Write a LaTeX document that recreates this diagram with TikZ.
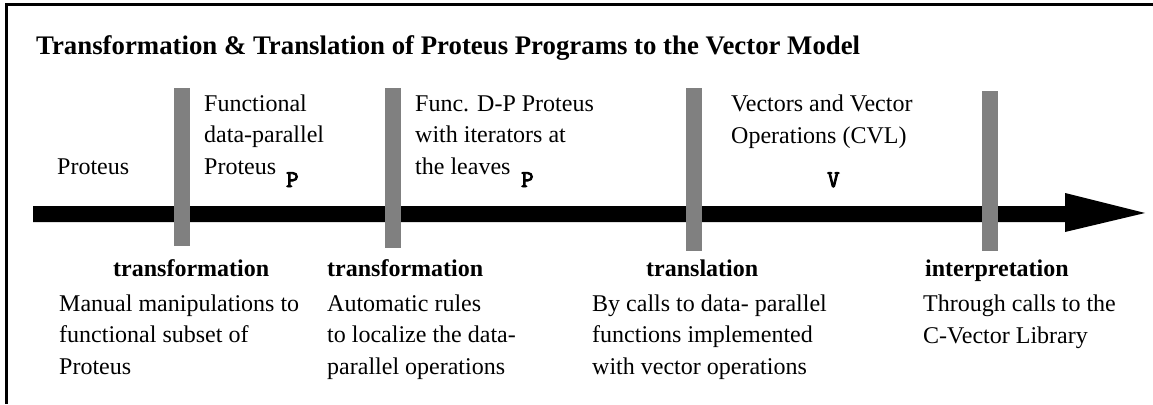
\documentclass[tikz,border=0pt]{standalone}
\usepackage{fontspec}
\setmainfont{Liberation Serif}
\newfontfamily\courbold[FakeBold=4]{Latin Modern Mono}
\definecolor{bargray}{HTML}{808080}
\begin{document}
\begin{tikzpicture}[x=1pt,y=-1pt,
  txt/.style={anchor=base west,inner sep=0pt,align=left,font=\fontsize{24}{31.5}\selectfont},
  lbl/.style={anchor=base west,inner sep=0pt,font=\fontsize{24}{28}\selectfont\bfseries},
  ttl/.style={anchor=base west,inner sep=0pt,font=\fontsize{26.8}{30}\selectfont\bfseries},
  mono/.style={anchor=base west,inner sep=0pt,font=\fontsize{24}{26}\selectfont\courbold},
  bar/.style={fill=bargray,draw=none},
  frame/.style={line width=2.5pt,black}]
\useasboundingbox (0,0) rectangle (1153,404);
% frame (top and left only)
\coordinate (tl) at (6.5,4.5);
\coordinate (tr) at (1153,4.5);
\coordinate (bl) at (6.5,404);
\draw[frame] (tr) -- (tl) -- (bl);
% title
\node[ttl] (title) at (36,55) {Transformation \& Translation of Proteus Programs to the Vector Model};
% arrow
\fill[black] (33,206) -- (1065,206) -- (1065,193) -- (1145,213) -- (1065,232) -- (1065,222) -- (33,222) -- cycle;
% bars
\fill[bar] (174,88) rectangle (190,246);
\fill[bar] (385,88) rectangle (401,248);
\fill[bar] (686,88) rectangle (702,251);
\fill[bar] (982,91) rectangle (998,251);
% top texts (base anchor = last line)
\node[txt] (s0) at (57,174) {Proteus};
\node[txt] (s1) at (204,174) {Functional\\data-parallel\\Proteus};
\node[mono] (p1) at (286,187) {P};
\node[txt] (s2) at (415,174) {Func. D-P Proteus\\with iterators at\\the leaves};
\node[mono] (p2) at (521,187) {P};
\node[txt] (s3) at (731,143) {Vectors and Vector\\Operations (CVL)};
\node[mono] (v3) at (827,187) {V};
% labels
\node[lbl] (l1) at (113,276) {transformation};
\node[lbl] (l2) at (327,276) {transformation};
\node[lbl] (l3) at (646,276) {translation};
\node[lbl] (l4) at (925,276) {interpretation};
% descriptions
\node[txt] (d1) at (59,374) {Manual manipulations to\\functional subset of\\Proteus};
\node[txt] (d2) at (327,374) {Automatic rules\\to localize the data-\\parallel operations};
\node[txt] (d3) at (592,374) {By calls to data- parallel\\functions implemented\\with vector operations};
\node[txt] (d4) at (923,343) {Through calls to the\\C-Vector Library};
\end{tikzpicture}
\end{document}
